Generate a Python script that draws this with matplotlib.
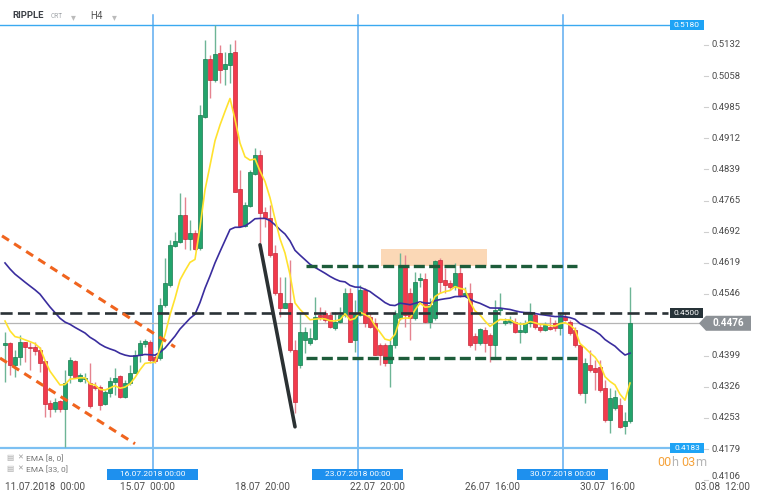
import matplotlib
matplotlib.use("Agg")
import matplotlib.pyplot as plt
from matplotlib.patches import Rectangle, Polygon
from matplotlib.transforms import blended_transform_factory
import numpy as np
import pandas as pd

plt.rcParams['font.family'] = ['Roboto', 'DejaVu Sans']

# ---------------- data (RIPPLE, H4 candles) ----------------
opens = [0.4425, 0.4430, 0.4377, 0.4397, 0.4432, 0.4420, 0.4420, 0.4413, 0.4387, 0.4288,
         0.4274, 0.4293, 0.4274, 0.4354, 0.4387, 0.4340, 0.4345, 0.4335, 0.4328, 0.4326,
         0.4286, 0.4312, 0.4337, 0.4352, 0.4302, 0.4335, 0.4359, 0.4401, 0.4427, 0.4432,
         0.4397, 0.4394, 0.4519, 0.4566, 0.4658, 0.4668, 0.4731, 0.4675, 0.4689, 0.4654,
         0.4962, 0.5099, 0.5049, 0.5113, 0.5075, 0.5085, 0.5115, 0.4793, 0.4705, 0.4752,
         0.4828, 0.4873, 0.4738, 0.4724, 0.4642, 0.4547, 0.4512, 0.4524, 0.4413, 0.4377,
         0.4437, 0.4430, 0.4439, 0.4496, 0.4500, 0.4496, 0.4465, 0.4479, 0.4496, 0.4547,
         0.4437, 0.4496, 0.4554, 0.4491, 0.4477, 0.4425, 0.4425, 0.4382, 0.4425, 0.4488,
         0.4613, 0.4547, 0.4488, 0.4578, 0.4580, 0.4479, 0.4488, 0.4625, 0.4578, 0.4571,
         0.4561, 0.4595, 0.4543, 0.4547, 0.4446, 0.4430, 0.4460, 0.4448, 0.4425, 0.4507,
         0.4477, 0.4479, 0.4479, 0.4455, 0.4455, 0.4477, 0.4496, 0.4467, 0.4460, 0.4467,
         0.4477, 0.4465, 0.4491, 0.4479, 0.4460, 0.4425, 0.4312, 0.4377, 0.4371, 0.4373,
         0.4323, 0.4248, 0.4276, 0.4283, 0.4234, 0.4246]
closes = [0.4430, 0.4377, 0.4397, 0.4432, 0.4420, 0.4418, 0.4411, 0.4382, 0.4286, 0.4274,
          0.4290, 0.4274, 0.4335, 0.4389, 0.4350, 0.4354, 0.4348, 0.4281, 0.4323, 0.4283,
          0.4314, 0.4340, 0.4348, 0.4302, 0.4335, 0.4359, 0.4401, 0.4430, 0.4435, 0.4389,
          0.4387, 0.4519, 0.4571, 0.4660, 0.4670, 0.4731, 0.4675, 0.4689, 0.4651, 0.4967,
          0.5099, 0.5049, 0.5111, 0.5073, 0.5087, 0.5113, 0.4785, 0.4705, 0.4755, 0.4833,
          0.4873, 0.4736, 0.4724, 0.4637, 0.4547, 0.4512, 0.4524, 0.4413, 0.4290, 0.4455,
          0.4455, 0.4441, 0.4491, 0.4491, 0.4484, 0.4467, 0.4479, 0.4496, 0.4547, 0.4432,
          0.4500, 0.4554, 0.4477, 0.4467, 0.4401, 0.4401, 0.4382, 0.4425, 0.4500, 0.4613,
          0.4496, 0.4488, 0.4573, 0.4583, 0.4479, 0.4519, 0.4623, 0.4573, 0.4566, 0.4561,
          0.4595, 0.4543, 0.4547, 0.4425, 0.4430, 0.4463, 0.4430, 0.4425, 0.4507, 0.4512,
          0.4481, 0.4484, 0.4455, 0.4460, 0.4477, 0.4500, 0.4467, 0.4460, 0.4472, 0.4463,
          0.4465, 0.4496, 0.4484, 0.4453, 0.4425, 0.4312, 0.4382, 0.4366, 0.4361, 0.4319,
          0.4248, 0.4300, 0.4302, 0.4232, 0.4246, 0.4476]
highs = [0.4455, 0.4432, 0.4413, 0.4448, 0.4432, 0.4432, 0.4432, 0.4420, 0.4387, 0.4295,
         0.4300, 0.4295, 0.4366, 0.4397, 0.4389, 0.4359, 0.4359, 0.4382, 0.4337, 0.4330,
         0.4319, 0.4350, 0.4371, 0.4354, 0.4342, 0.4377, 0.4413, 0.4437, 0.4439, 0.4437,
         0.4401, 0.4536, 0.4630, 0.4672, 0.4691, 0.4783, 0.4774, 0.4719, 0.4696, 0.4991,
         0.5144, 0.5108, 0.5179, 0.5132, 0.5115, 0.5134, 0.5144, 0.4837, 0.4762, 0.4837,
         0.4889, 0.4884, 0.4750, 0.4755, 0.4661, 0.4585, 0.4585, 0.4625, 0.4437, 0.4500,
         0.4467, 0.4465, 0.4538, 0.4514, 0.4507, 0.4503, 0.4503, 0.4514, 0.4559, 0.4559,
         0.4531, 0.4566, 0.4559, 0.4500, 0.4488, 0.4430, 0.4430, 0.4437, 0.4507, 0.4642,
         0.4637, 0.4559, 0.4597, 0.4595, 0.4595, 0.4536, 0.4625, 0.4630, 0.4606, 0.4578,
         0.4618, 0.4613, 0.4561, 0.4571, 0.4453, 0.4465, 0.4467, 0.4453, 0.4531, 0.4547,
         0.4488, 0.4493, 0.4488, 0.4479, 0.4484, 0.4524, 0.4500, 0.4477, 0.4479, 0.4491,
         0.4484, 0.4500, 0.4500, 0.4484, 0.4467, 0.4425, 0.4394, 0.4413, 0.4389, 0.4389,
         0.4342, 0.4323, 0.4319, 0.4300, 0.4267, 0.4561]
lows = [0.4337, 0.4354, 0.4350, 0.4377, 0.4384, 0.4366, 0.4401, 0.4361, 0.4255, 0.4255,
        0.4267, 0.4267, 0.4184, 0.4335, 0.4348, 0.4337, 0.4335, 0.4276, 0.4319, 0.4272,
        0.4283, 0.4302, 0.4307, 0.4300, 0.4300, 0.4330, 0.4359, 0.4384, 0.4420, 0.4382,
        0.4382, 0.4389, 0.4514, 0.4561, 0.4656, 0.4665, 0.4651, 0.4649, 0.4649, 0.4649,
        0.4960, 0.5007, 0.5045, 0.5042, 0.5038, 0.5042, 0.4785, 0.4703, 0.4703, 0.4750,
        0.4826, 0.4665, 0.4703, 0.4632, 0.4543, 0.4491, 0.4512, 0.4408, 0.4265, 0.4371,
        0.4406, 0.4425, 0.4437, 0.4484, 0.4479, 0.4465, 0.4460, 0.4477, 0.4491, 0.4432,
        0.4408, 0.4493, 0.4467, 0.4465, 0.4401, 0.4377, 0.4375, 0.4326, 0.4418, 0.4484,
        0.4467, 0.4437, 0.4484, 0.4561, 0.4477, 0.4465, 0.4484, 0.4547, 0.4547, 0.4554,
        0.4554, 0.4538, 0.4540, 0.4420, 0.4413, 0.4425, 0.4408, 0.4384, 0.4397, 0.4496,
        0.4472, 0.4474, 0.4453, 0.4430, 0.4453, 0.4467, 0.4463, 0.4455, 0.4458, 0.4460,
        0.4458, 0.4448, 0.4481, 0.4448, 0.4420, 0.4307, 0.4288, 0.4361, 0.4319, 0.4314,
        0.4243, 0.4218, 0.4272, 0.4229, 0.4215, 0.4241]

ema8_seed = 0.4496     # EMA values just before the first visible candle
ema33_seed = 0.4630

time_labels = ["11.07.2018  00:00", "15.07  00:00", "18.07  20:00", "22.07  20:00",
               "26.07  16:00", "30.07  16:00", "03.08  12:00"]
time_label_idx = [0, 23, 46, 69, 92, 115, 138]

week_labels = ["16.07.2018 00:00", "23.07.2018 00:00", "30.07.2018 00:00"]
week_idx = [29.5, 70.5, 111.5]

price_ticks = [0.5132, 0.5058, 0.4985, 0.4912, 0.4839, 0.4765, 0.4692, 0.4619,
               0.4546, 0.4399, 0.4326, 0.4253, 0.4179, 0.4106]

resistance = 0.5180
support = 0.4183
key_level = 0.4500
range_top = 0.4610
range_bottom = 0.4393
range_idx = [60.2, 114.4]
supply_zone = [0.4611, 0.4651]
supply_idx = [75.2, 96.4]
channel_upper_idx = [-0.6, 34.0]
channel_upper_val = [0.4682, 0.4420]
channel_lower_idx = [-1.0, 26.0]
channel_lower_val = [0.4394, 0.4192]
drop_idx = [51.0, 58.0]
drop_val = [0.4661, 0.4232]

# ---------------- figure ----------------
W, H = 760, 501
fig = plt.figure(figsize=(W / 100, H / 100), dpi=100)
ax = fig.add_axes([0, 0, 1, 1])
ax.set_axis_off()
ax.set_xlim(-1, 151)
ax.set_ylim(0.40571, 0.5238)

def fx(px):
    return px / W

def fy(py):
    return 1 - py / H

xa_yd = blended_transform_factory(ax.transAxes, ax.transData)
xd_ya = blended_transform_factory(ax.transData, ax.transAxes)

x_end_lines = ax.transData.inverted().transform((fx(670) * W, 0))[0]

# week separators
for wi in week_idx:
    ax.axvline(wi, ymin=fy(470), ymax=fy(15), color='#5eacf0', lw=1.1, zorder=2)

# supply zone
ax.add_patch(Rectangle((supply_idx[0], supply_zone[0]), supply_idx[1] - supply_idx[0],
                       supply_zone[1] - supply_zone[0], facecolor='#fbd2aa',
                       edgecolor='none', alpha=0.85, zorder=1))

# horizontal levels
ax.plot([-1, x_end_lines], [resistance, resistance], color='#3aa9f0', lw=1.0, zorder=2)
ax.plot([-1, x_end_lines], [support, support], color='#7cc0f2', lw=1.6, zorder=2)
last_close = closes[-1]
x_cur_end = ax.transData.inverted().transform((fx(703) * W, 0))[0]
ax.plot([-1, x_cur_end], [last_close, last_close], color='#b5b5b5', lw=0.9, zorder=2)

# candles
o = np.array(opens); c = np.array(closes); hi = np.array(highs); lo = np.array(lows)
idx = np.arange(len(c))
up = c >= o
dn = ~up
min_h = 0.00025
body = np.maximum(np.abs(c - o), min_h)
bottom = np.minimum(o, c)
ax.vlines(idx[up], lo[up], hi[up], color='#6db596', lw=1.0, zorder=3)
ax.vlines(idx[dn], lo[dn], hi[dn], color='#e5838f', lw=1.0, zorder=3)
ax.bar(idx[up], body[up], bottom=bottom[up], width=0.66, color='#23a46c',
       edgecolor='#187a4f', linewidth=0.5, zorder=4)
ax.bar(idx[dn], body[dn], bottom=bottom[dn], width=0.66, color='#f23a4c',
       edgecolor='#c42a3a', linewidth=0.5, zorder=4)

# EMAs
ema8 = pd.Series([ema8_seed] + closes).ewm(span=8, adjust=False).mean().iloc[1:].values
ema33 = pd.Series([ema33_seed] + closes).ewm(span=33, adjust=False).mean().iloc[1:].values
ax.plot(idx, ema33, color='#3a2d9e', lw=1.2, zorder=5)
ax.plot(idx, ema8, color='#ffe22e', lw=1.2, zorder=5)

# drawings
x_key_end = ax.transData.inverted().transform((fx(668) * W, 0))[0]
ax.plot([-1, x_key_end], [key_level, key_level], color='#2a3236', lw=1.9,
        dashes=(4.6, 2.0), zorder=6)
ax.plot(range_idx, [range_top, range_top], color='#1d5c3a', lw=2.4,
        dashes=(3.3, 1.3), zorder=6)
ax.plot(range_idx, [range_bottom, range_bottom], color='#1d5c3a', lw=2.4,
        dashes=(3.3, 1.3), zorder=6)
ax.plot(channel_upper_idx, channel_upper_val, color='#f0641e', lw=2.2,
        dashes=(2.7, 2.0), zorder=6)
ax.plot(channel_lower_idx, channel_lower_val, color='#f0641e', lw=2.2,
        dashes=(2.7, 2.0), zorder=6)
ax.plot(drop_idx, drop_val, color='#2b3133', lw=2.6, solid_capstyle='round', zorder=6)

# right price scale
for v in price_ticks:
    ax.plot([fx(704), fx(708)], [v, v], transform=xa_yd, color='#cfcfcf', lw=0.8)
    dy = 0.0009 if v == min(price_ticks) else 0.0
    ax.text(fx(712), v + dy, f"{v:.4f}", transform=xa_yd, ha='left', va='center',
            fontsize=6.8, color='#4a4a4a')

pxv = 0.0002357  # value per pixel

def level_box(val, color, text, x0=670, w=34, h=10):
    ax.add_patch(Rectangle((fx(x0), val - h * pxv / 2), w / W, h * pxv,
                           transform=xa_yd, facecolor=color, edgecolor='none', zorder=7))
    ax.text(fx(x0 + w / 2), val, text, transform=xa_yd, ha='center', va='center',
            fontsize=6.0, color='white', zorder=8)

level_box(resistance, '#1ea3f5', f"{resistance:.4f}")
level_box(support, '#1ea3f5', f"{support:.4f}")
level_box(key_level, '#263238', f"{key_level:.4f}", w=33)

# current price arrow label
hh = 7.5 * pxv
ax.add_patch(Polygon([(fx(699), last_close), (fx(706), last_close + hh), (fx(751), last_close + hh),
                      (fx(751), last_close - hh), (fx(706), last_close - hh)],
                     closed=True, transform=xa_yd, facecolor='#8c9196', edgecolor='none', zorder=7))
ax.text(fx(728), last_close, f"{last_close:.4f}", transform=xa_yd, ha='center', va='center',
        fontsize=7.2, fontweight='bold', color='white', zorder=8)

# time axis labels
for lab, ti in zip(time_labels, time_label_idx):
    ax.text(ti, fy(487), lab, transform=xd_ya, ha='left', va='center',
            fontsize=7.2, color='#4f4f4f')

# week boxes
box_w = 18.2
for lab, wi in zip(week_labels, week_idx):
    ax.add_patch(Rectangle((wi - box_w / 2, fy(480)), box_w, 11 / H, transform=xd_ya,
                           facecolor='#1e90ee', edgecolor='none', zorder=7))
    ax.text(wi, fy(474.5), lab, transform=xd_ya, ha='center', va='center',
            fontsize=6.0, color='white', zorder=8)

# header
ax.text(fx(12), fy(16), "RIPPLE", transform=ax.transAxes, ha='left', va='center',
        fontsize=6.8, fontweight='bold', color='#3b3f45')
ax.text(fx(51), fy(16), "CRT", transform=ax.transAxes, ha='left', va='center',
        fontsize=4.8, color='#a0a4a8')
ax.text(fx(71), fy(17), "▾", transform=ax.transAxes, ha='left', va='center',
        fontsize=7, color='#bbbbbb')
ax.text(fx(90), fy(16), "H4", transform=ax.transAxes, ha='left', va='center',
        fontsize=7, color='#555555')
ax.text(fx(112), fy(17), "▾", transform=ax.transAxes, ha='left', va='center',
        fontsize=7, color='#bbbbbb')

# legend
for yy, lab in [(458, "EMA [8, 0]"), (469, "EMA [33, 0]")]:
    ax.text(fx(6), fy(yy), "▤", transform=ax.transAxes, ha='left', va='center',
            fontsize=5.5, color='#aaaaaa')
    ax.text(fx(17), fy(yy), "✕", transform=ax.transAxes, ha='left', va='center',
            fontsize=5, color='#9a9a9a')
    ax.text(fx(26), fy(yy), lab, transform=ax.transAxes, ha='left', va='center',
            fontsize=6, color='#777777')

# countdown
for xx, s, col in [(657, "00", '#f5a23a'), (671, "h", '#b5b5b5'),
                   (681, "03", '#f5a23a'), (695, "m", '#b5b5b5')]:
    ax.text(fx(xx), fy(463), s, transform=ax.transAxes, ha='left', va='center',
            fontsize=9, color=col)

fig.savefig("out.png", dpi=100, facecolor='white')
